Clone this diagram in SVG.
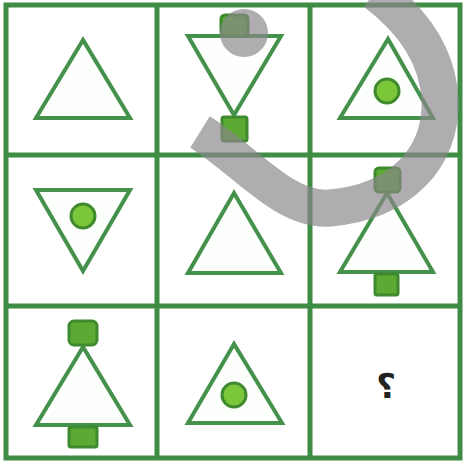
<svg xmlns="http://www.w3.org/2000/svg" width="466" height="463" viewBox="0 0 466 463">
<style>
.grid{fill:none;stroke:#3f8c44;stroke-width:5}
.tri{fill:#fdfffd;stroke:#43914a;stroke-width:4;stroke-linejoin:miter}
.dot{fill:#7cc63a;stroke:#3f8a2e;stroke-width:3}
.sq{fill:#5caa34;stroke:#3e8a2e;stroke-width:3}
.wm{fill:none;stroke:#8a868a;stroke-opacity:0.68;stroke-width:37}
.q{font-family:"DejaVu Sans",sans-serif;font-size:34px;font-weight:bold;fill:#222;text-anchor:middle}
</style>
<rect width="466" height="463" fill="#ffffff"/>
<g id="r1c1"><polygon class="tri" points="83,40 36,118 130,118"/></g>
<g id="r1c2">
<polygon class="tri" points="188,36 281,36 234,115"/>
<rect class="sq" x="221" y="15" width="27" height="21" rx="4"/>
<rect class="sq" x="222" y="117" width="25" height="24" rx="2"/>
</g>
<g id="r1c3">
<polygon class="tri" points="388,39 340,118 433,118"/>
<circle class="dot" cx="387" cy="91" r="12"/>
</g>
<g id="r2c1">
<polygon class="tri" points="36,190 130,190 83,271"/>
<circle class="dot" cx="83" cy="216" r="12"/>
</g>
<g id="r2c2"><polygon class="tri" points="234,193 188,273 281,273"/></g>
<g id="r2c3">
<polygon class="tri" points="387,193 340,272 433,272"/>
<rect class="sq" x="375" y="168" width="25" height="24" rx="4"/>
<rect class="sq" x="375" y="274" width="23" height="21" rx="2"/>
</g>
<g id="r3c1">
<polygon class="tri" points="83,347 36,425 130,425"/>
<rect class="sq" x="69" y="321" width="28" height="24" rx="5"/>
<rect class="sq" x="69" y="427" width="28" height="20" rx="2"/>
</g>
<g id="r3c2">
<polygon class="tri" points="234,344 188,423 282,423"/>
<circle class="dot" cx="234" cy="395" r="12"/>
</g>
<g id="r3c3"><text class="q" x="386" y="398">؟</text></g>
<g id="grid">
<rect class="grid" x="6" y="5" width="454" height="453"/>
<line class="grid" x1="157" y1="5" x2="157" y2="458"/>
<line class="grid" x1="310" y1="5" x2="310" y2="458"/>
<line class="grid" x1="6" y1="155" x2="460" y2="155"/>
<line class="grid" x1="6" y1="306" x2="460" y2="306"/>
</g>
<g id="watermark">
<circle cx="244" cy="33" r="24" fill="#8a868a" fill-opacity="0.68"/>
<path class="wm" d="M200,132 C245,160 285,212 330,208 C400,202 442,158 440,100 C438,55 412,20 375,-8"/>
</g>
</svg>
